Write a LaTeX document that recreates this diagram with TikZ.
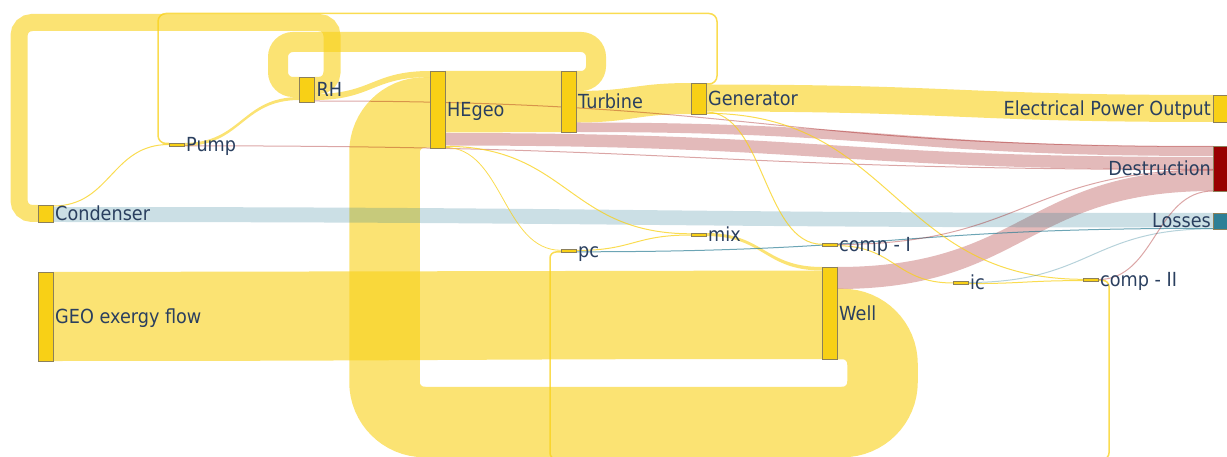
\documentclass[tikz,border=0pt]{standalone}
\usepackage{fontspec}
\setmainfont{DejaVu Sans}[FakeStretch=0.91]
\usetikzlibrary{calc}
\definecolor{ndY}{RGB}{248,208,22}
\definecolor{ndR}{RGB}{153,0,0}
\definecolor{ndB}{RGB}{46,127,150}
\definecolor{ndBorder}{RGB}{140,128,90}
\definecolor{txt}{RGB}{42,63,95}
\pgfdeclarelayer{bg}
\pgfsetlayers{bg,main}
\tikzset{
 nd/.style={rectangle, draw=ndBorder, line width=0.6pt, fill=ndY, minimum width=15pt, inner sep=0pt, outer sep=0pt},
 lbl/.style={font=\fontsize{19.4}{22}\selectfont, text=txt, inner sep=0pt, text height=14pt, text depth=0pt, label distance=2pt},
 ylink/.style={fill=ndY, fill opacity=0.6},
 plink/.style={fill=ndR, fill opacity=0.27},
 blink/.style={fill=ndB, fill opacity=0.25},
 yline/.style={draw=ndY, draw opacity=0.75, line width=1pt},
 pline/.style={draw=ndR, draw opacity=0.35, line width=1pt},
 tline/.style={draw=ndB, draw opacity=0.7, line width=1pt},
 bline/.style={draw=ndB, draw opacity=0.35, line width=1pt},
 yloop/.style={draw=ndY, draw opacity=0.6},
}
\newcommand\skband[7]{%
  \coordinate (bm) at ($(#1.east)!.5!(#4.west)$);
  \fill[#7] (#1.east |- 0,#2) .. controls (bm |- 0,#2) and (bm |- 0,#5) .. (#4.west |- 0,#5)
    -- (#4.west |- 0,#6) .. controls (bm |- 0,#6) and (bm |- 0,#3) .. (#1.east |- 0,#3) -- cycle;}
\newcommand\skflow[5]{%
  \coordinate (bm) at ($(#1.east)!.5!(#3.west)$);
  \draw[#5] (#1.east |- 0,#2) .. controls (bm |- 0,#2) and (bm |- 0,#4) .. (#3.west |- 0,#4);}
\begin{document}
\begin{tikzpicture}[x=1pt,y=-1pt]
\useasboundingbox (0,0) rectangle (1227,457);
% nodes
\node[nd, minimum height=17pt, label={[lbl]right:Condenser}] (Condenser) at (45.5,213.5) {};
\node[nd, minimum height=3pt, label={[lbl]right:Pump}] (Pump) at (176.5,144.5) {};
\node[nd, minimum height=25pt, label={[lbl]right:RH}] (RH) at (307,89.5) {};
\node[nd, minimum height=77pt, label={[lbl]right:HEgeo}] (HEgeo) at (437.5,109.5) {};
\node[nd, minimum height=61pt, label={[lbl]right:Turbine}] (Turbine) at (568.5,101.5) {};
\node[nd, minimum height=31pt, label={[lbl]right:Generator}] (Generator) at (698.5,98.5) {};
\node[nd, minimum height=27pt, label={[lbl]left:Electrical Power Output}] (EPO) at (1220.5,108.5) {};
\node[nd, fill=ndR, minimum height=45pt, label={[lbl]left:Destruction}] (Dest) at (1220.5,168.5) {};
\node[nd, fill=ndB, minimum height=16pt, label={[lbl]left:Losses}] (Losses) at (1220.5,221) {};
\node[nd, minimum height=89pt, label={[lbl]right:GEO exergy flow}] (GEO) at (45.5,316.5) {};
\node[nd, minimum height=3pt, label={[lbl]right:pc}] (pc) at (568.5,251) {};
\node[nd, minimum height=3pt, label={[lbl]right:mix}] (mix) at (698.5,234.5) {};
\node[nd, minimum height=2.5pt, label={[lbl]right:comp - I}] (compI) at (829.5,245) {};
\node[nd, minimum height=92pt, label={[lbl]right:Well}] (Well) at (829.5,313) {};
\node[nd, minimum height=2.5pt, label={[lbl]right:ic}] (ic) at (960.5,283) {};
\node[nd, minimum height=2.5pt, label={[lbl]right:comp - II}] (compII) at (1090.5,280) {};
% links
\begin{pgfonlayer}{bg}
\clip (0,0) rectangle (1227,457);
% circular links
\draw[yloop, line width=17pt, rounded corners=13pt] (RH.east |- 0,85.5) -- (332,85.5) -- (332,22.5) -- (19,22.5) -- (19,213.5) -- (Condenser.west |- 0,213.5);
\draw[yloop, line width=20pt, rounded corners=15pt] (Turbine.east |- 0,81) -- (596,81) -- (596,42) -- (278,42) -- (278,87) -- (RH.west |- 0,87);
\draw[yline, line width=1.5pt, rounded corners=8pt] (Generator.east |- 0,84) -- (717,84) -- (717,13.5) -- (158,13.5) -- (158,143.5) -- (Pump.west |- 0,143.5);
\draw[yloop, line width=70.5pt, rounded corners=40pt] (Well.east |- 0,324) -- (882.5,324) -- (882.5,422) -- (384.5,422) -- (384.5,112.5) -- (HEgeo.west |- 0,112.5);
\draw[yline, line width=1.5pt, rounded corners=6pt] (compII.east |- 0,280.5) -- (1109,280.5) -- (1109,459) -- (550,459) -- (550,252) -- (pc.west |- 0,252);
% bands
\skband{GEO}{272}{361}{Well}{270.5}{359}{ylink}
\skband{HEgeo}{71}{132.5}{Turbine}{71}{132}{ylink}
\skband{Turbine}{91}{122.5}{Generator}{83}{114}{ylink}
\skband{Generator}{84.5}{111.5}{EPO}{95}{122}{ylink}
\skband{RH}{94}{100}{HEgeo}{71}{77}{ylink}
\skband{Pump}{143}{146}{RH}{97}{100}{ylink}
\skband{mix}{233}{236}{Well}{267}{270.5}{ylink}
\skband{Turbine}{122.5}{132}{Dest}{146.5}{156}{plink}
\skband{HEgeo}{133}{145.5}{Dest}{157}{169.5}{plink}
\skband{Well}{267}{289}{Dest}{170}{191}{plink}
\skband{Condenser}{207}{222}{Losses}{213}{227.5}{blink}
% thin flows
\skflow{Condenser}{206}{Pump}{144.5}{yline}
\skflow{RH}{101}{Dest}{146.5}{pline}
\skflow{Pump}{145.8}{Dest}{169.5}{pline}
\skflow{HEgeo}{146.3}{mix}{233.8}{yline}
\skflow{HEgeo}{147.4}{pc}{250.3}{yline, line width=0.8pt}
\skflow{pc}{250.5}{mix}{235}{yline}
\skflow{pc}{251.8}{Losses}{228.3}{tline}
\skflow{Generator}{112}{compI}{244.3}{yline}
\skflow{Generator}{113.3}{compII}{279.3}{yline}
\skflow{compI}{245.7}{ic}{283}{yline}
\skflow{compI}{244.5}{Dest}{170}{pline}
\skflow{ic}{283.6}{compII}{280.6}{yline}
\skflow{ic}{282.5}{Losses}{228.8}{bline}
\skflow{compII}{279.6}{Dest}{191}{pline}
\end{pgfonlayer}
\end{tikzpicture}
\end{document}
